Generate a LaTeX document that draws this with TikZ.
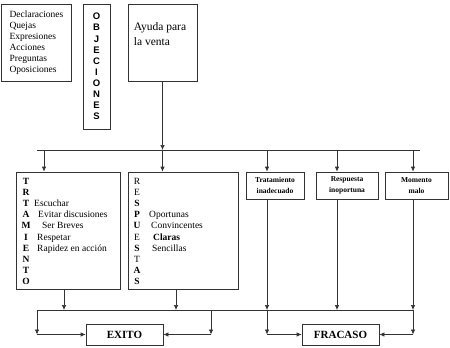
\documentclass[tikz,border=0pt]{standalone}
\usepackage{fontspec}
\setmainfont{Liberation Serif}
\setsansfont{Liberation Sans}
\usetikzlibrary{arrows.meta,calc}

\begin{document}
\begin{tikzpicture}[x=1pt,y=-1pt,>={Latex[length=5pt,width=4.5pt]},
 box/.style={draw=black!80,line width=.7pt,inner sep=0pt},
 txt/.style={font=\fontsize{9.5}{11}\selectfont},
 lett/.style={anchor=base,inner sep=0pt,font=\bfseries\fontsize{9.5}{11}\selectfont},
 smallbox/.style={box,minimum height=27pt,align=center,font=\bfseries\fontsize{7.5}{10.5}\selectfont},
 endbox/.style={box,minimum width=77pt,minimum height=21pt,font=\bfseries\fontsize{11}{13}\selectfont},
 line/.style={black!80,line width=.7pt}]
\useasboundingbox (0,0) rectangle (450,348);
\node[box,txt,minimum width=70pt,minimum height=77pt,align=left] (quejas) at (36.5,42.5)
 {Declaraciones\\Quejas\\Expresiones\\Acciones\\Preguntas\\Oposiciones};
\node[box,minimum width=27pt,minimum height=125pt,align=center,
 font=\sffamily\bfseries\fontsize{9.5}{11.1}\selectfont] (objec) at (96.5,66.5)
 {O\\B\\J\\E\\C\\I\\O\\N\\E\\S};
\node[box,minimum width=69pt,minimum height=77pt] (ayuda) at (162.5,42.5) {};
\node[anchor=north west,inner sep=0pt,align=left,font=\fontsize{11.5}{14.5}\selectfont] (ayudaT)
 at ([xshift=6pt,yshift=-19pt]ayuda.north west) {Ayuda para\\la venta};

\node[box,minimum width=104pt,minimum height=117pt] (trat) at (68,230.5) {};
\foreach \l [count=\i] in {T,R,T,A,M,I,E,N,T,O}
 \node[lett] (tratL\i) at (26,{184.3+11.14*(\i-1)}) {\l};
\foreach \t/\x/\r [count=\i] in {Escuchar/34/3,Evitar discusiones/38/4,Ser Breves/42/5,Respetar/37/6,Rapidez en acción/37/7}
 \node[txt,anchor=base west,inner sep=0pt] (tratI\i) at (\x,{184.3+11.14*(\r-1)}) {\t};

\node[box,minimum width=110pt,minimum height=117pt] (resp) at (183,230.5) {};
\foreach \l [count=\i] in {R,E,\textbf{S},\textbf{P},\textbf{U},E,\textbf{S},T,\textbf{A},\textbf{S}}
 \node[lett,font=\fontsize{9.5}{11}\selectfont] (respL\i) at (137,{184.3+11.14*(\i-1)}) {\l};
\foreach \t/\x/\r [count=\i] in {Oportunas/149/4,Convincentes/151/5,\textbf{Claras}/153/6,Sencillas/152/7}
 \node[txt,anchor=base west,inner sep=0pt] (respI\i) at (\x,{184.3+11.14*(\r-1)}) {\t};

\node[smallbox,minimum width=58pt] (tinad) at (275,185.5) {Tratamiento\\inadecuado};
\node[smallbox,minimum width=62pt] (rinop) at (347,185.5) {Respuesta\\inoportuna};
\node[smallbox,minimum width=63pt] (mmalo) at (416.5,185.5) {Momento\\malo};

\node[endbox] (exito) at (124.5,334.5) {EXITO};
\node[endbox] (fracaso) at (340.5,334.5) {FRACASO};

\coordinate (busA) at (37,150);
\coordinate (busB) at (420,150);
\coordinate (busC) at (37,310);
\coordinate (busD) at (413,310);
\draw[line] (busA) -- (busB);
\draw[line] (busC) -- (busD);

\draw[line,->] (ayuda.south) -- (ayuda.south |- busA);
\draw[line,->] (ayuda.south |- busA) -- (ayuda.south |- resp.north);
\coordinate (dA) at (44,150);
\draw[line,->] (dA) -- (dA |- trat.north);

\foreach \n/\x in {tinad/267,rinop/337,mmalo/413}{
 \coordinate (up\n) at (\x,150);
 \coordinate (lo\n) at (\x,310);
 \draw[line,->] (up\n) -- (up\n |- \n.north);
 \draw[line,->] (up\n |- \n.south) -- (lo\n);
}

\coordinate (dB) at (64,310);
\coordinate (dC) at (176,310);
\draw[line,->] (dB |- trat.south) -- (dB);
\draw[line,->] (dC |- resp.south) -- (dC);

\coordinate (dE) at (211,310);
\draw[line,->] (busC) -- (busC |- exito.west);
\draw[line,->] (busC |- exito.west) -- (exito.west);
\draw[line,->] (dE) -- (dE |- exito.east);
\draw[line,->] (dE |- exito.east) -- (exito.east);

\draw[line,->] (lotinad) -- (lotinad |- fracaso.west);
\draw[line,->] (lotinad |- fracaso.west) -- (fracaso.west);
\draw[line,->] (lommalo) -- (lommalo |- fracaso.east);
\draw[line,->] (lommalo |- fracaso.east) -- (fracaso.east);
\end{tikzpicture}
\end{document}
